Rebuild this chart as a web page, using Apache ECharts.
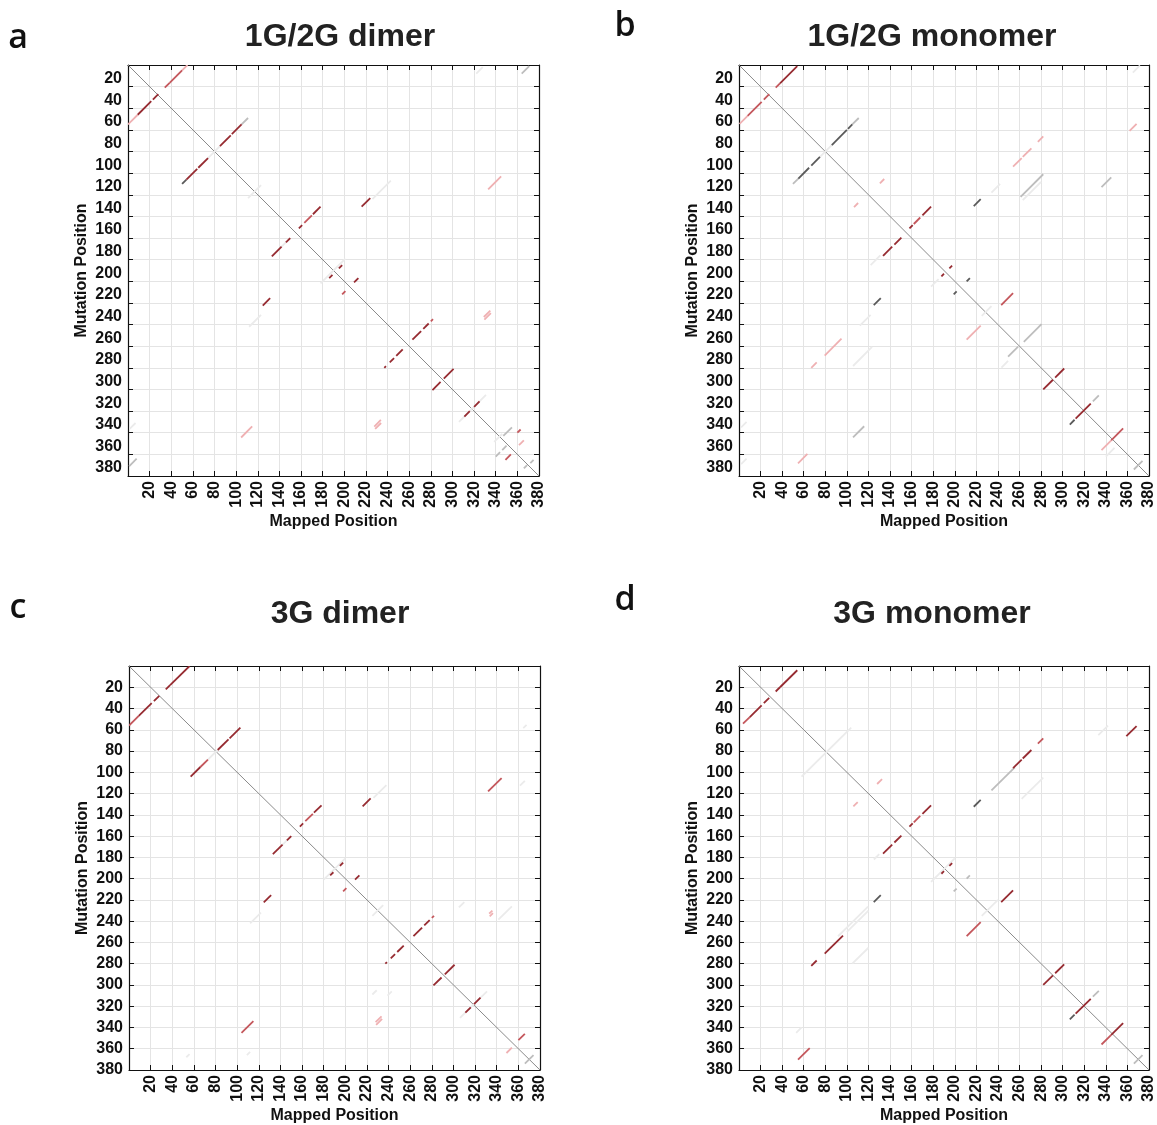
<!DOCTYPE html>
<html>
<head>
<meta charset="utf-8">
<script src="https://cdn.jsdelivr.net/npm/echarts@6/dist/echarts.min.js"></script>
<style>
  html, body { margin: 0; padding: 0; background: #fff; }
  #main { width: 1157px; height: 1125px; }
</style>
</head>
<body>
<div id="main"></div>
<script>
// panels and axis setup
const panelTitles = ['1G/2G dimer', '1G/2G monomer', '3G dimer', '3G monomer'];
const panelLetters = ['a', 'b', 'c', 'd'];
const axisMax = 380;
const tickStep = 20;

// segments: [mappedFrom, mappedTo, mapped+mutation sum, level]
// level > 0 : red shades (3 dark .. 1 pink), level < 0 : grey shades (-3 dark .. -1 faint)
const segA = [
  [0, 9, 55, 1], [9, 21.5, 55, 3], [23, 28, 55, 3], [34, 38.5, 55, 2], [38.5, 50, 55, 2], [50, 55, 55, 1],
  [50, 54, 160, -3], [54, 64, 160, 3], [65, 74, 160, 3], [74, 85, 160, -1], [85, 95, 160, 3], [96, 105, 160, 3], [105, 111, 160, -2],
  [111, 123, 234, -1],
  [216, 224, 347, 3], [226, 243, 350, -1],
  [333, 345, 448, 1],
  [322, 328, 330, -1], [364, 371, 372, -2],
  [133, 142, 310, 3], [142, 146, 310, -1], [146, 150, 310, 3], [158, 161, 309, 3], [163, 170, 309, 2], [171, 178, 309, 3],
  [178, 201, 380, -1], [186, 189, 383, 3], [195, 198, 383, 3],
  [198, 201, 410, 2], [209, 213, 410, 3],
  [124.6, 131.4, 347, 3], [112, 123, 354, -1],
  [237, 238.5, 517, 3], [242, 246, 517, 3], [248, 254, 517, 3], [263, 271, 517, 3], [273, 278, 517, 3], [280, 282, 517, 2],
  [281.5, 289, 582, 3], [292, 301, 582, 3],
  [306, 331, 636, -1], [311, 316, 636, 3], [320, 325, 636, 3],
  [104.6, 114.8, 449, 1],
  [227.7, 233.8, 562, 1], [228.5, 234, 565, 1],
  [329, 335, 562, 1], [329.5, 335.5, 565, 1],
  [338.5, 346, 687, -1], [347, 355, 690, -2], [340, 344, 702, -2], [346, 350, 702, -2],
  [360, 363, 700, 2], [361.5, 366, 713, 1], [349, 354, 714, 2], [366, 369, 739, -2], [372, 375, 740, -2],
  [1, 8, 372, -2], [1.5, 7, 338, -1]
];

const segB = [
  [0.5, 8, 55, 1], [8, 21, 55, 2], [23, 28, 55, 2], [34, 38, 55, 2], [38, 54, 55, 3],
  [50, 55, 160, -2], [55, 65, 160, -3], [67, 75, 160, -3], [75, 86, 160, -1], [86, 100, 160, -3], [101, 105, 160, -3], [105, 111, 160, -2],
  [254, 262, 348, 1], [263, 271, 348, 1], [277, 282, 348, 1],
  [362, 368.5, 423, 1],
  [106.6, 110.4, 238, 1], [130.6, 134.6, 240, 1],
  [217.6, 224, 348, -3], [234, 242, 352, -1],
  [261, 282, 383, -2], [263, 280, 388, -1],
  [336, 345, 449, -2],
  [122, 131, 307, -1],
  [133.5, 142, 310, 3], [144, 150.5, 310, 3], [158, 161, 309, 3], [162, 168, 309, 2], [170, 178, 309, 3],
  [178, 185, 383, -1], [187.6, 190, 383, 3], [195, 197.5, 383, 3],
  [199, 201.7, 411, -3], [211, 214, 411, -3],
  [124.9, 131.4, 347, -3], [112, 122, 353, -1],
  [243, 254, 465, 2], [211, 224, 465, 1], [225, 234, 457, -1],
  [67, 72, 347, 1], [79.4, 95, 348, 1],
  [105.7, 123.3, 384, -1], [105.7, 116, 450, -2],
  [54.7, 63.4, 423, 1],
  [243.3, 249.4, 523, -1], [249.4, 258.7, 519, -2], [264, 280.4, 520, -2],
  [282, 291, 582, 3], [293, 301.4, 582, 3],
  [306.6, 311, 639, -3], [312, 326, 639, 3], [328, 333.5, 639, -2],
  [336, 345, 692, 1], [345, 356, 692, 2], [340, 348, 702, -1], [366, 374, 740, -2],
  [2, 7, 371, -1], [2, 7, 337, -1], [365, 371.6, 372, -1]
];

const segC = [
  [0, 9, 56, 2], [9, 21, 56, 3], [23, 28, 56, 3], [34, 38, 56, 3], [38, 56, 56, 3],
  [57, 66, 161, 3], [66, 73, 161, 2], [73, 82, 161, -1], [82, 92, 161, 3], [93, 103, 161, 3],
  [216, 223.4, 348, 3], [226, 238, 350, -1],
  [133, 142, 310, 3], [142, 146, 310, -1], [146, 150, 310, 3], [158, 161, 309, 3], [163, 170, 309, 2], [171, 178, 309, 3],
  [180, 200, 381, -1], [186, 189, 383, 3], [195, 198, 383, 3],
  [198, 201, 410, 2], [209, 213, 410, 3],
  [124.6, 131.4, 347, 3], [112, 122, 354, -1],
  [332, 344.5, 450, 2], [361.5, 366, 474, -1],
  [333, 336, 566, 1], [333.5, 336.5, 569, 1],
  [237, 238.5, 517, 3], [242, 246, 517, 3], [248, 254, 517, 3], [263, 271, 517, 3], [273, 278, 517, 3], [280, 282, 517, 2],
  [281.5, 289, 582, 3], [292, 301, 582, 3],
  [306, 331, 637, -1], [311, 316, 637, 3], [319, 325, 637, 3],
  [104, 115, 449, 2],
  [228, 233.5, 563, 1], [228.5, 234, 566, 1],
  [349, 354, 713, 1], [360, 366, 712, 2], [366, 374, 740, -2],
  [364.5, 367.6, 423, -1], [225, 235, 460, -1], [225, 229, 534, -1], [239, 243, 549, -1],
  [341.5, 354, 580, -1], [305, 310, 532, -1], [53, 56, 421, -1], [109, 112, 475, -1]
];

const segD = [
  [3.7, 10, 58, 2], [10, 21, 58, 3], [23, 28, 58, 3], [34, 38, 58, 3], [38, 54, 58, 3],
  [58, 104, 162, -1],
  [128, 132.6, 239, 1], [106, 110, 238, 1],
  [254, 262, 350, 3], [263, 271, 350, 3], [277, 282, 350, 2], [234, 255.6, 351, -2], [217.6, 224, 350, -3],
  [262, 282, 387, -1],
  [359, 368.5, 425, 3], [333, 342, 398, -1],
  [125, 130, 307, -1], [133.5, 142, 310, 3], [144, 150.5, 310, 3], [158, 161, 309, 3], [162, 168, 309, 2], [170, 178, 309, 3],
  [178, 200, 381, -1], [187.6, 190, 383, 3], [195, 197.5, 383, 3],
  [199, 201.7, 411, -2], [211, 214, 411, -2],
  [124.9, 131.4, 347, -3], [100, 120, 350, -1],
  [243, 254, 465, 3], [211, 224, 465, 2], [225, 240, 460, -1],
  [67, 72, 349, 3], [79.4, 96.4, 350, 3], [91.8, 119.6, 346, -1], [105, 120, 385, -1],
  [54.7, 65.5, 425, 2], [53, 58, 398, -1],
  [282, 291, 582, 3], [293, 301.4, 582, 3],
  [306.6, 311, 639, -3], [312, 326, 639, 3], [328, 333.5, 639, -2],
  [336, 345, 692, 2], [345, 356, 692, 3], [366, 374, 740, -2]
];

const panelSegs = [segA, segB, segC, segD];

const levelColor = {
  '3': '#962b31', '2': '#c4575c', '1': '#efb0b2',
  '-1': '#ebebeb', '-2': '#bdbdbd', '-3': '#5a5a5a'
};

// grid boxes (px)
const grids = [
  { left: 128, top: 65, width: 411, height: 411 },
  { left: 739, top: 65, width: 410, height: 411 },
  { left: 129, top: 666, width: 411, height: 410 },
  { left: 739, top: 666, width: 410, height: 410 }
];
const titleCenters = [335, 927, 335, 927];

const labelFont = { fontFamily: '"Liberation Sans", Arial, sans-serif', fontWeight: 'bold', color: '#111' };

const myChart = echarts.init(document.getElementById('main'));

const xAxes = [];
const yAxes = [];
const series = [];

grids.forEach((g, i) => {
  const shiftedLabels = i < 2; // top row: y labels sit just above their gridline
  // bottom x
  xAxes.push({
    gridIndex: i, type: 'value', min: 0, max: axisMax, interval: tickStep, position: 'bottom',
    name: 'Mapped Position', nameLocation: 'middle', nameGap: 38,
    nameTextStyle: Object.assign({ fontSize: 16 }, labelFont),
    axisLine: { show: true, onZero: false, lineStyle: { color: '#111', width: 1.2 } },
    axisTick: { show: true, inside: true, length: 5, lineStyle: { color: '#111' } },
    axisLabel: Object.assign({ fontSize: 16, rotate: 90, margin: 5,
      formatter: v => (v === 0 ? '' : v) }, labelFont),
    splitLine: { show: true, lineStyle: { color: '#e4e4e4', width: 1 } }
  });
  // top mirror
  xAxes.push({
    gridIndex: i, type: 'value', min: 0, max: axisMax, interval: tickStep, position: 'top',
    axisLine: { show: true, onZero: false, lineStyle: { color: '#111', width: 1.2 } },
    axisTick: { show: true, inside: true, length: 5, lineStyle: { color: '#111' } },
    axisLabel: { show: false }, splitLine: { show: false }
  });
  // left y
  yAxes.push({
    gridIndex: i, type: 'value', min: 0, max: axisMax, interval: tickStep, inverse: true, position: 'left',
    name: 'Mutation Position', nameLocation: 'middle', nameGap: 38, nameRotate: 90,
    nameTextStyle: Object.assign({ fontSize: 16 }, labelFont),
    axisLine: { show: true, onZero: false, lineStyle: { color: '#111', width: 1.2 } },
    axisTick: { show: true, inside: true, length: 5, lineStyle: { color: '#111' } },
    axisLabel: Object.assign({ fontSize: 16, margin: 6,
      verticalAlign: shiftedLabels ? 'bottom' : 'middle',
      formatter: v => (v === 0 ? '' : v) }, labelFont),
    splitLine: { show: true, lineStyle: { color: '#e4e4e4', width: 1 } }
  });
  // right mirror
  yAxes.push({
    gridIndex: i, type: 'value', min: 0, max: axisMax, interval: tickStep, inverse: true, position: 'right',
    axisLine: { show: true, onZero: false, lineStyle: { color: '#111', width: 1.2 } },
    axisTick: { show: true, inside: true, length: 5, lineStyle: { color: '#111' } },
    axisLabel: { show: false }, splitLine: { show: false }
  });

  // identity diagonal
  series.push({
    type: 'lines', coordinateSystem: 'cartesian2d', xAxisIndex: i * 2, yAxisIndex: i * 2,
    silent: true, z: 2,
    data: [{ coords: [[0, 0], [axisMax, axisMax]] }],
    lineStyle: { color: '#8a8a8a', width: 1, opacity: 1 }
  });

  // segments, faint ones first
  const segs = panelSegs[i].slice().sort((a, b) => Math.abs(a[3]) - Math.abs(b[3]) || (a[3] < 0 ? -1 : 1));
  series.push({
    type: 'lines', coordinateSystem: 'cartesian2d', xAxisIndex: i * 2, yAxisIndex: i * 2,
    silent: true, z: 3,
    data: segs.map(s => ({
      coords: [[s[0], s[2] - s[0]], [s[1], s[2] - s[1]]],
      lineStyle: { color: levelColor[String(s[3])], width: 1.8, opacity: 1 }
    }))
  });
});

const option = {
  animation: false,
  backgroundColor: '#fff',
  title: panelTitles.map((t, i) => ({
    text: t,
    left: titleCenters[i],
    top: i < 2 ? 16 : 593,
    textAlign: 'center',
    textStyle: { fontSize: 32, fontWeight: 'bold', color: '#222', fontFamily: '"Liberation Sans", Arial, sans-serif' }
  })),
  graphic: panelLetters.map((l, i) => ({
    type: 'text',
    x: [18, 625, 18, 625][i],
    y: [38, 26, 608, 600][i],
    style: {
      text: l, fill: '#111', align: 'center', verticalAlign: 'middle',
      font: '600 34px "Open Sans", "DejaVu Sans", sans-serif'
    }
  })),
  grid: grids.map(g => Object.assign({ containLabel: false }, g)),
  xAxis: xAxes,
  yAxis: yAxes,
  series: series
};

myChart.setOption(option);
</script>
</body>
</html>
